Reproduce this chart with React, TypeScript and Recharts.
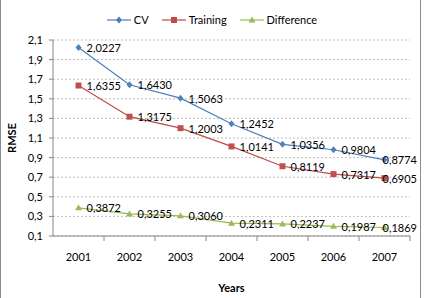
import React from "react";
import {
  LineChart,
  Line,
  XAxis,
  YAxis,
  CartesianGrid,
  LabelList,
} from "recharts";

const years = ["2001", "2002", "2003", "2004", "2005", "2006", "2007"];
const cv = [2.0227, 1.643, 1.5063, 1.2452, 1.0356, 0.9804, 0.8774];
const training = [1.6355, 1.3175, 1.2003, 1.0141, 0.8119, 0.7317, 0.6905];
const difference = [0.3872, 0.3255, 0.306, 0.2311, 0.2237, 0.1987, 0.1869];
const yTicks = [0.1, 0.3, 0.5, 0.7, 0.9, 1.1, 1.3, 1.5, 1.7, 1.9, 2.1];

const data = years.map((year, i) => ({
  year,
  cv: cv[i],
  training: training[i],
  difference: difference[i],
}));

const W = 424;
const H = 298;
const X_AXIS_H = 30;
const MARGIN = { top: 40, right: 14, bottom: 32, left: 0 };
const Y_AXIS_W = 53;
const PLOT_W = W - MARGIN.left - MARGIN.right - Y_AXIS_W;
const BAND = PLOT_W / years.length;
// excel keeps data labels inside the chart area
const LABEL_LIMIT = 417;

const FONT = "Lato, 'DejaVu Sans', sans-serif";
const AXIS = "#868686";
const BLUE = "#4A7EBB";
const RED = "#BE4B48";
const GREEN = "#98B954";

const comma = (v: number, d: number) => v.toFixed(d).replace(".", ",");

const Diamond = ({ cx, cy, color }: any) => (
  <path
    d={`M${cx},${cy - 3.5} L${cx + 3},${cy} L${cx},${cy + 3.5} L${cx - 3},${cy} Z`}
    fill={color}
  />
);
const Square = ({ cx, cy, color }: any) => (
  <rect x={cx - 3} y={cy - 3} width={6} height={6} fill={color} />
);
const Triangle = ({ cx, cy, color }: any) => (
  <path d={`M${cx},${cy - 3.5} L${cx + 3.5},${cy + 2.5} L${cx - 3.5},${cy + 2.5} Z`} fill={color} />
);

const renderLabel = (props: any) => {
  const { x, y, value } = props;
  const overflow = x + 8 + 33 > LABEL_LIMIT;
  return (
    <text
      x={overflow ? LABEL_LIMIT : x + 8}
      y={y}
      textAnchor={overflow ? "end" : "start"}
      dominantBaseline="central"
      fontSize={11}
      fontFamily={FONT}
      fill="#000"
    >
      {comma(value, 4)}
    </text>
  );
};

const XTick = ({ x, y, payload }: any) => (
  <g>
    <line x1={x + BAND / 2} y1={y} x2={x + BAND / 2} y2={y + 5} stroke={AXIS} />
    <text
      x={x}
      y={y + 20}
      textAnchor="middle"
      dominantBaseline="central"
      fontSize={11}
      fontFamily={FONT}
      fill="#000"
    >
      {payload.value}
    </text>
  </g>
);

const legendItems = [
  { name: "CV", color: BLUE, Marker: Diamond },
  { name: "Training", color: RED, Marker: Square },
  { name: "Difference", color: GREEN, Marker: Triangle },
];

export default function App() {
  return (
    <div
      style={{
        position: "absolute",
        left: 0,
        top: 0,
        width: W,
        height: H,
        background: "#fff",
        fontFamily: FONT,
      }}
    >
      <div
        style={{
          position: "absolute",
          left: 0,
          top: 0,
          width: 421,
          height: H,
          borderLeft: "1px solid #8c8c8c",
          borderRight: "1px solid #8c8c8c",
          boxSizing: "border-box",
        }}
      />
      <div
        style={{
          position: "absolute",
          top: 12,
          left: 0,
          width: W,
          display: "flex",
          justifyContent: "center",
          gap: 13,
          fontSize: 11,
          lineHeight: "16px",
        }}
      >
        {legendItems.map(({ name, color, Marker }) => (
          <div key={name} style={{ display: "flex", alignItems: "center", gap: 3 }}>
            <svg width={24} height={16}>
              <line x1={0} y1={8} x2={24} y2={8} stroke={color} strokeWidth={1.2} />
              <Marker cx={12} cy={8} color={color} />
            </svg>
            <span>{name}</span>
          </div>
        ))}
      </div>
      <LineChart
        width={W}
        height={H}
        data={data}
        margin={MARGIN}
        style={{ position: "absolute", left: 0, top: 0 }}
      >
        <CartesianGrid
          horizontal
          vertical={false}
          stroke="#bdbdbd"
          strokeDasharray="2 2"
        />
        <XAxis
          dataKey="year"
          height={X_AXIS_H}
          stroke={AXIS}
          tickLine={false}
          tickSize={0}
          tickMargin={0}
          tick={<XTick />}
          interval={0}
          padding={{ left: BAND / 2, right: BAND / 2 }}
          label={{
            content: () => (
              <text
                x={Y_AXIS_W + PLOT_W / 2}
                y={287}
                textAnchor="middle"
                dominantBaseline="central"
                fontWeight="bold"
                fontSize={11}
                fontFamily={FONT}
                fill="#000"
              >
                Years
              </text>
            ),
          }}
        />
        <YAxis
          width={Y_AXIS_W}
          domain={[0.1, 2.1]}
          ticks={yTicks}
          interval={0}
          stroke={AXIS}
          tickSize={4}
          tickMargin={6}
          tickFormatter={(v: number) => comma(v, 1)}
          tick={{ fontSize: 11, fill: "#000", fontFamily: FONT }}
          label={{
            content: () => (
              <text
                x={11}
                y={138}
                transform="rotate(-90 11 138)"
                textAnchor="middle"
                dominantBaseline="central"
                fontWeight="bold"
                fontSize={11}
                fontFamily={FONT}
                fill="#000"
              >
                RMSE
              </text>
            ),
          }}
        />
        <Line
          dataKey="cv"
          stroke={BLUE}
          strokeWidth={1.2}
          isAnimationActive={false}
          dot={(p: any) => <Diamond key={p.index} cx={p.cx} cy={p.cy} color="#4F81BD" />}
        >
          <LabelList dataKey="cv" content={renderLabel} />
        </Line>
        <Line
          dataKey="training"
          stroke={RED}
          strokeWidth={1.2}
          isAnimationActive={false}
          dot={(p: any) => <Square key={p.index} cx={p.cx} cy={p.cy} color="#C0504D" />}
        >
          <LabelList dataKey="training" content={renderLabel} />
        </Line>
        <Line
          dataKey="difference"
          stroke={GREEN}
          strokeWidth={1.2}
          isAnimationActive={false}
          dot={(p: any) => <Triangle key={p.index} cx={p.cx} cy={p.cy} color="#9BBB59" />}
        >
          <LabelList dataKey="difference" content={renderLabel} />
        </Line>
      </LineChart>
    </div>
  );
}
